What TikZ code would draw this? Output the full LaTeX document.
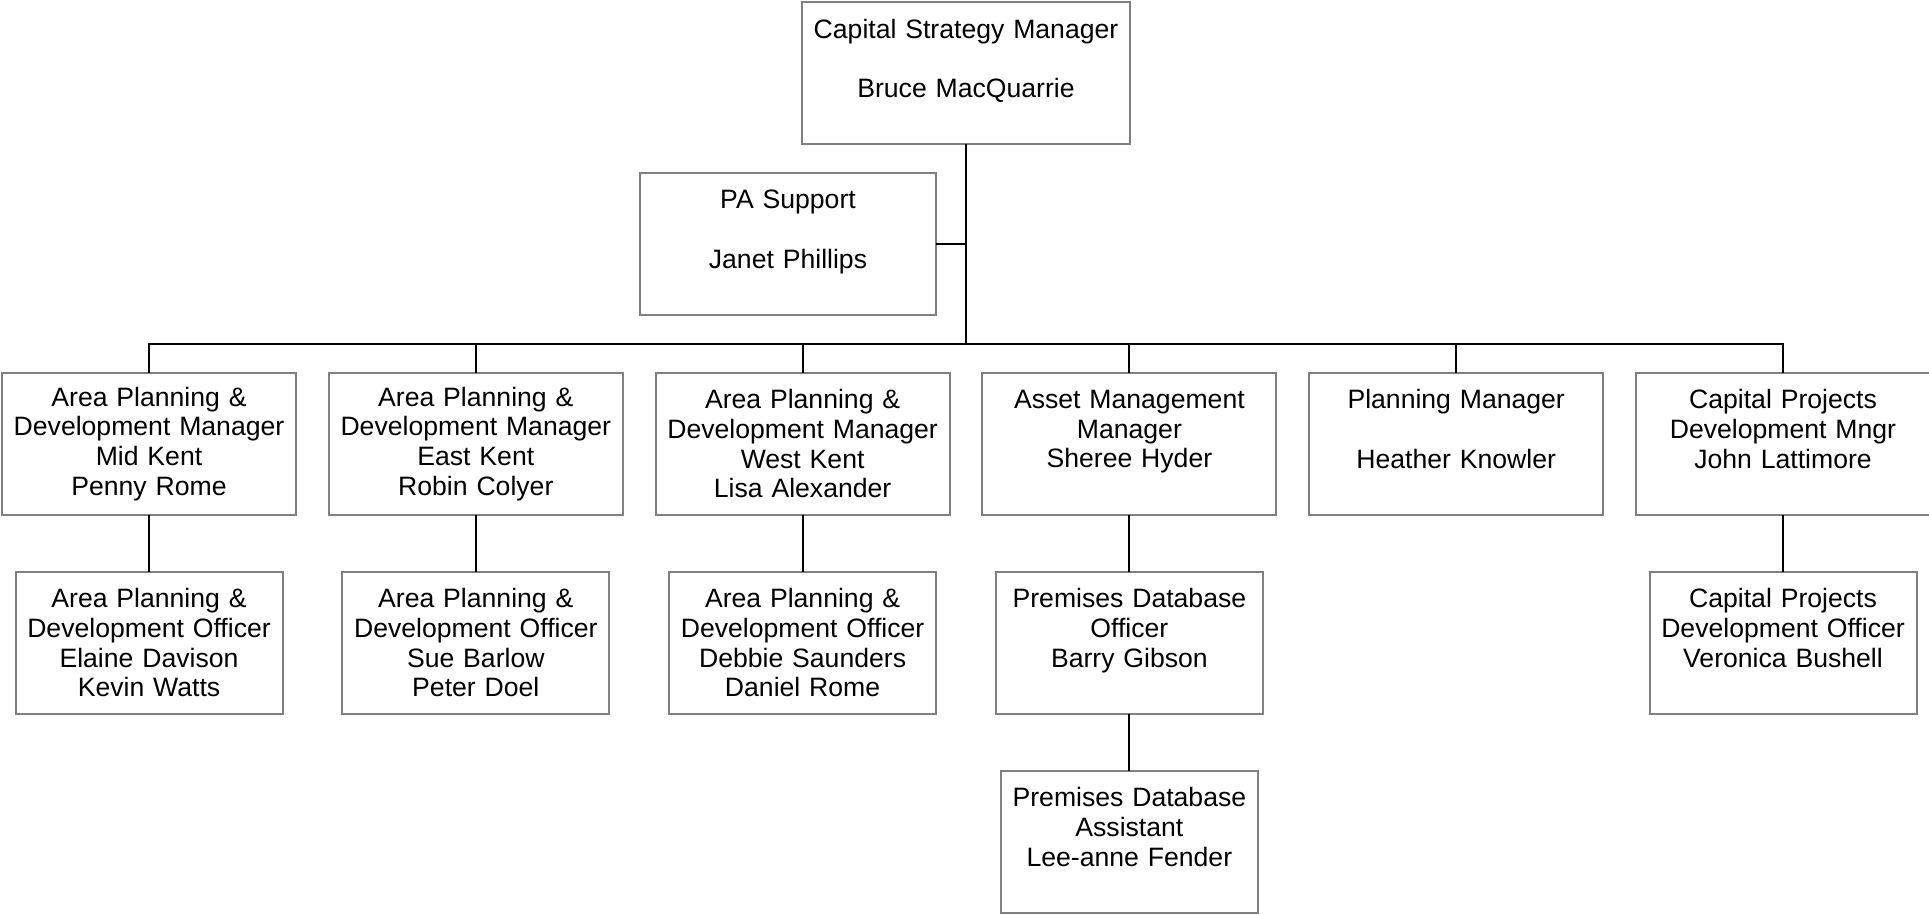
\documentclass[tikz,border=0pt]{standalone}
\usepackage{fontspec}
\setmainfont{Liberation Sans}
\usetikzlibrary{positioning}

\begin{document}
\begin{tikzpicture}
\tikzset{basic/.style={draw=black!50,line width=1pt,align=center,minimum height=71pt,inner sep=0pt,outer sep=0pt,
  font=\fontsize{13.3}{14.85}\selectfont}}
\tikzset{head/.style={basic,text width=164pt}}
\tikzset{manager/.style={basic,text width=147pt}}
\tikzset{officer/.style={basic,text width=133.5pt}}
\tikzset{assistant/.style={basic,text width=128.5pt}}
\tikzset{link/.style={draw,line width=1pt}}
	\useasboundingbox (0,0) rectangle (964.5pt,-457.5pt);
	\node[head] (csm) at (483pt,-36.5pt) {Capital Strategy Manager\\~\\Bruce MacQuarrie\\~};
	\node[basic,text width=148pt,below left=14.5pt and 15pt of csm.south] (pa) {PA Support\\~\\Janet Phillips\\~};
	\coordinate[below=100pt of csm.south] (bus);
		\path[link] (csm) -- (bus);
		\path[link] (pa) -- (pa -| bus);
	% managers
	\node[manager,below left=14.4pt and 8.2pt of bus] (m3) {Area Planning \&\\Development Manager\\West Kent\\Lisa Alexander};
	\node[manager,below right=14.4pt and 8.2pt of bus] (m4) {Asset Management\\Manager\\Sheree Hyder\\~};
	\node[manager,left=16.4pt of m3] (m2) {Area Planning \&\\Development Manager\\East Kent\\Robin Colyer};
	\node[manager,left=16.4pt of m2] (m1) {Area Planning \&\\Development Manager\\Mid Kent\\Penny Rome};
	\node[manager,right=16.4pt of m4] (m5) {Planning Manager\\~\\Heather Knowler\\~};
	\node[manager,right=16.4pt of m5] (m6) {Capital Projects\\Development Mngr\\John Lattimore\\~};
		\path[link] (m1.north) -- (m1.north |- bus) -- (m6.north |- bus) -- (m6.north);
		\path[link] (m2.north) -- (m2.north |- bus);
		\path[link] (m3.north) -- (m3.north |- bus);
		\path[link] (m4.north) -- (m4.north |- bus);
		\path[link] (m5.north) -- (m5.north |- bus);
	% officers
	\node[officer,below=28.5pt of m1] (o1) {Area Planning \&\\Development Officer\\Elaine Davison\\Kevin Watts};
	\node[officer,below=28.5pt of m2] (o2) {Area Planning \&\\Development Officer\\Sue Barlow\\Peter Doel};
	\node[officer,below=28.5pt of m3] (o3) {Area Planning \&\\Development Officer\\Debbie Saunders\\Daniel Rome};
	\node[officer,below=28.5pt of m4] (o4) {Premises Database\\Officer\\Barry Gibson\\~};
	\node[officer,below=28.5pt of m6] (o6) {Capital Projects\\Development Officer\\Veronica Bushell\\~};
		\path[link] (m1) -- (o1);
		\path[link] (m2) -- (o2);
		\path[link] (m3) -- (o3);
		\path[link] (m4) -- (o4);
		\path[link] (m6) -- (o6);
	\node[assistant,below=28.5pt of o4] (a4) {Premises Database\\Assistant\\Lee-anne Fender\\~};
		\path[link] (o4) -- (a4);
\end{tikzpicture}
\end{document}
